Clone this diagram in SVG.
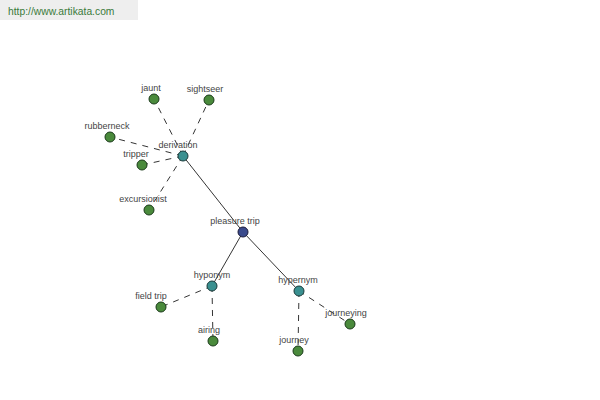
<svg xmlns="http://www.w3.org/2000/svg" width="600" height="400" viewBox="0 0 600 400">
<style>
text{font-family:"Liberation Sans",Arial,sans-serif;font-size:9px;fill:#444;text-anchor:middle}
.leaf{fill:#4a8a3c;stroke:#1a3a1a;stroke-width:1}
.mid{fill:#3a9090;stroke:#1a3a3a;stroke-width:1}
.root{fill:#3a4a8c;stroke:#1a1a3a;stroke-width:1}
.solid{stroke:#000;stroke-width:0.8;fill:none}
.dash{stroke:#000;stroke-width:0.8;fill:none;stroke-dasharray:6,6}
</style>
<rect x="0" y="0" width="138" height="20" fill="#eeeeee"/>
<text x="8" y="15" style="text-anchor:start;font-size:10.3px;fill:#3a7a3a">http://www.artikata.com</text>
<g id="connectors">
<line class="solid" x1="243" y1="232" x2="183" y2="156"/>
<line class="solid" x1="243" y1="232" x2="212" y2="286"/>
<line class="solid" x1="243" y1="232" x2="299" y2="291"/>
<line class="dash" x1="183" y1="156" x2="154" y2="99"/>
<line class="dash" x1="183" y1="156" x2="209" y2="100"/>
<line class="dash" x1="183" y1="156" x2="110" y2="137"/>
<line class="dash" x1="183" y1="156" x2="142" y2="165"/>
<line class="dash" x1="183" y1="156" x2="149" y2="210"/>
<line class="dash" x1="212" y1="286" x2="161" y2="307"/>
<line class="dash" x1="212" y1="286" x2="213" y2="341"/>
<line class="dash" x1="299" y1="291" x2="298" y2="351"/>
<line class="dash" x1="299" y1="291" x2="350" y2="324"/>
</g>
<g id="derivation"><circle class="mid" cx="183" cy="156" r="5"/><text x="178" y="148">derivation</text></g>
<g id="pleasure-trip"><circle class="root" cx="243" cy="232" r="5"/><text x="235" y="224">pleasure trip</text></g>
<g id="hyponym"><circle class="mid" cx="212" cy="286" r="5"/><text x="212" y="278">hyponym</text></g>
<g id="hypernym"><circle class="mid" cx="299" cy="291" r="5"/><text x="298" y="283">hypernym</text></g>
<g id="jaunt"><circle class="leaf" cx="154" cy="99" r="5"/><text x="151" y="91">jaunt</text></g>
<g id="sightseer"><circle class="leaf" cx="209" cy="100" r="5"/><text x="205" y="92">sightseer</text></g>
<g id="rubberneck"><circle class="leaf" cx="110" cy="137" r="5"/><text x="107" y="129">rubberneck</text></g>
<g id="tripper"><circle class="leaf" cx="142" cy="165" r="5"/><text x="136" y="157">tripper</text></g>
<g id="excursionist"><circle class="leaf" cx="149" cy="210" r="5"/><text x="143" y="202">excursionist</text></g>
<g id="field-trip"><circle class="leaf" cx="161" cy="307" r="5"/><text x="151" y="299">field trip</text></g>
<g id="airing"><circle class="leaf" cx="213" cy="341" r="5"/><text x="209" y="333">airing</text></g>
<g id="journey"><circle class="leaf" cx="298" cy="351" r="5"/><text x="294" y="343">journey</text></g>
<g id="journeying"><circle class="leaf" cx="350" cy="324" r="5"/><text x="346" y="316">journeying</text></g>
</svg>
